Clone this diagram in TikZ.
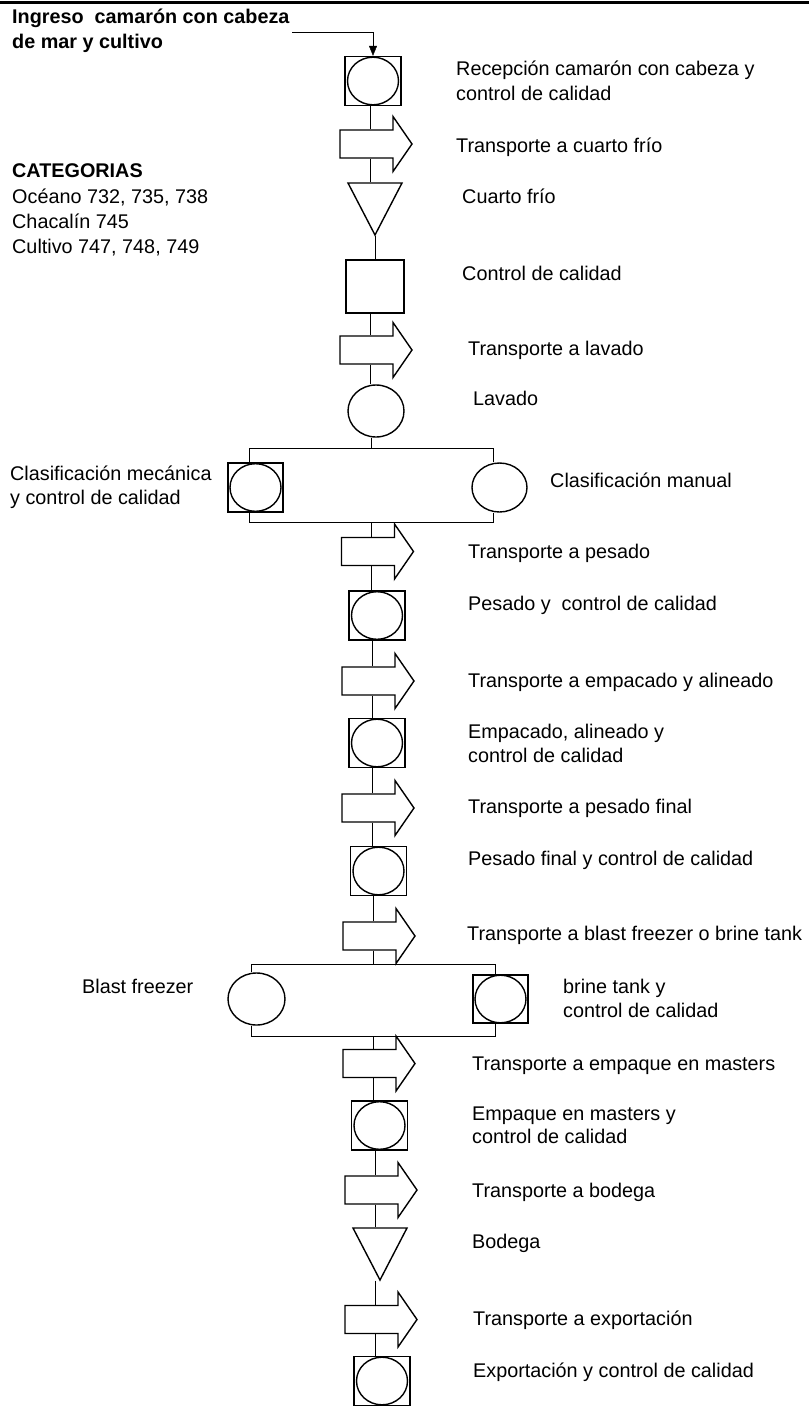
\documentclass[tikz,border=0pt]{standalone}
\usepackage{fontspec}
\setmainfont{Liberation Sans}
\usetikzlibrary{arrows.meta,shapes.geometric,calc,backgrounds}

\newcommand\lblfont{\fontsize{19.8}{24.5}\selectfont}

\begin{document}
\begin{tikzpicture}[x=1pt,y=-1pt,
  line width=1.4pt,
  every node/.style={inner sep=0pt},
  lbl/.style={anchor=west, font=\lblfont, text height=14pt, text depth=4pt},
  blbl/.style={lbl, font=\lblfont\bfseries},
  insp/.style={draw, fill=white, rectangle, minimum width=56pt, minimum height=49pt,
    path picture={\draw[line width=1.4pt] (path picture bounding box.center)
      ellipse [x radius=25.5pt, y radius=23.8pt];}},
  oper/.style={draw, fill=white, ellipse, minimum width=56pt, minimum height=52pt},
  ctrlbox/.style={draw, fill=white, rectangle, minimum width=58pt, minimum height=53pt},
  transp/.pic={
    \draw[fill=white] (-30,-14) -- (23,-14) -- (23,-27.5) -- (42,0)
      -- (23,27.5) -- (23,14) -- (-30,14) -- cycle;
    \node[minimum height=28pt, minimum width=0pt] (-n) at (0,0) {};
  },
  store/.pic={
    \draw[fill=white] (-27,-26) -- (27,-26) -- (0,26) -- cycle;
    \node[minimum width=54pt, minimum height=52pt] (-n) at (0,0) {};
  },
]
\useasboundingbox (0,0) rectangle (809,1406);

% page rule along the top edge
\draw[line width=3pt] (0,2) -- (809,2);

% ---- process symbols ----
\node[insp] (rec) at (373,81) {};
\pic (t1) at (370,144) {transp};
\pic (tri1) at (375,209) {store};
\node[ctrlbox] (ctrl) at (375,286.5) {};
\pic (t2) at (370,350) {transp};
\node[oper] (lav) at (376,411) {};

% first branching: mechanical / manual grading
\node[insp, minimum width=55pt] (clsm) at (255.5,487.5) {};
\node[oper, minimum width=55pt, minimum height=49pt] (clsn) at (499.5,487.5) {};
\coordinate (b1tl) at (249,448);
\coordinate (b1tr) at (493,448);
\coordinate (b1bl) at (249,522);
\coordinate (b1br) at (493,522);
\coordinate (b1in) at (371,448);
\coordinate (b1out) at (371,522);

\pic (t3) at (371.5,551.5) {transp};
\node[insp] (pes) at (377,615.5) {};
\pic (t4) at (372,681) {transp};
\node[insp] (emp) at (377,743) {};
\pic (t5) at (372,808) {transp};
\node[insp] (pfin) at (378.5,871) {};
\pic (t6) at (373,936) {transp};

% second branching: blast freezer / brine tank
\node[oper, minimum width=57pt, minimum height=52pt] (blast) at (256.5,999) {};
\node[insp, minimum width=55pt, minimum height=48pt] (brine) at (500.5,999) {};
\coordinate (b2tl) at (251,964.5);
\coordinate (b2tr) at (495,964.5);
\coordinate (b2bl) at (251,1036);
\coordinate (b2br) at (495,1036);
\coordinate (b2in) at (373,964.5);
\coordinate (b2out) at (373,1036);

\pic (t7) at (373,1063.5) {transp};
\node[insp] (mas) at (379.5,1125.5) {};
\pic (t8) at (375,1190) {transp};
\pic (tri2) at (380,1254) {store};
\pic (t9) at (375,1319.5) {transp};
\node[insp] (expo) at (382,1381) {};

% ---- connectors, kept beneath the symbols ----
\begin{pgfonlayer}{background}
\fill[white] (0,0) rectangle (809,1406);

\coordinate (ing) at (292,32);
\draw[-{Triangle[length=10pt,width=8pt]}] (ing) -| (rec.north);

\draw (t1-n.north |- rec.south) -- (t1-n.north);
\draw (t1-n.south) -- (t1-n.south |- tri1-n.north);
\draw (tri1-n.south) -- (ctrl.north);
\draw (t2-n.north |- ctrl.south) -- (t2-n.north);
\draw (t2-n.south) -- (t2-n.south |- lav.north);
\draw (b1in |- lav.south) -- (b1in);

\draw (b1tl |- clsm.north) -- (b1tl) -- (b1tr) -- (b1tr |- clsn.north);
\draw (b1bl |- clsm.south) -- (b1bl) -- (b1br) -- (b1br |- clsn.south);

\draw (t3-n.north |- b1out) -- (t3-n.north);
\draw (t3-n.south) -- (t3-n.south |- pes.north);
\draw (t4-n.north |- pes.south) -- (t4-n.north);
\draw (t4-n.south) -- (t4-n.south |- emp.north);
\draw (t5-n.north |- emp.south) -- (t5-n.north);
\draw (t5-n.south) -- (t5-n.south |- pfin.north);
\draw (t6-n.north |- pfin.south) -- (t6-n.north);
\draw (t6-n.south) -- (b2in);

\draw (b2tl |- blast.north) -- (b2tl) -- (b2tr) -- (b2tr |- brine.north);
\draw (b2bl |- blast.south) -- (b2bl) -- (b2br) -- (b2br |- brine.south);

\draw (b2out) -- (t7-n.north);
\draw (t7-n.south) -- (t7-n.south |- mas.north);
\draw (t8-n.north |- mas.south) -- (t8-n.north);
\draw (t8-n.south) -- (t8-n.south |- tri2-n.north);
\draw (t9-n.north |- tri2-n.south) -- (t9-n.north);
\draw (t9-n.south) -- (t9-n.south |- expo.north);
\end{pgfonlayer}

% ---- labels, left side ----
\node[blbl] (ing1) at (12,18) {Ingreso\ \ camarón con cabeza};
\node[blbl] (ing2) at (12,43) {de mar y cultivo};
\node[blbl] (cat) at (12,172) {CATEGORIAS};
\node[lbl] (cat1) at (12,198) {Océano 732, 735, 738};
\node[lbl] (cat2) at (12,223) {Chacalín 745};
\node[lbl] (cat3) at (12,248) {Cultivo 747, 748, 749};
\node[lbl] (lclsm1) at (10,475) {Clasificación mecánica};
\node[lbl] (lclsm2) at (10,499) {y control de calidad};
\node[lbl] (lblast) at (82,988) {Blast freezer};

% ---- labels, right side ----
\node[lbl] (lrec1) at (456,70) {Recepción camarón con cabeza y};
\node[lbl] (lrec2) at (456,95) {control de calidad};
\node[lbl] (lt1) at (456,147) {Transporte a cuarto frío};
\node[lbl] (ltri1) at (462,198) {Cuarto frío};
\node[lbl] (lctrl) at (462,275) {Control de calidad};
\node[lbl] (lt2) at (468,350) {Transporte a lavado};
\node[lbl] (llav) at (473,400) {Lavado};
\node[lbl] (lclsn) at (550,482) {Clasificación manual};
\node[lbl] (lt3) at (468,553) {Transporte a pesado};
\node[lbl] (lpes) at (468,605) {Pesado y\ \ control de calidad};
\node[lbl] (lt4) at (468,682) {Transporte a empacado y alineado};
\node[lbl] (lemp1) at (468,733) {Empacado, alineado y};
\node[lbl] (lemp2) at (468,757) {control de calidad};
\node[lbl] (lt5) at (468,808) {Transporte a pesado final};
\node[lbl] (lpfin) at (468,860) {Pesado final y control de calidad};
\node[lbl] (lt6) at (467,935) {Transporte a blast freezer o brine tank};
\node[lbl] (lbrine1) at (563,988) {brine tank y};
\node[lbl] (lbrine2) at (563,1012) {control de calidad};
\node[lbl] (lt7) at (472,1065) {Transporte a empaque en masters};
\node[lbl] (lmas1) at (472,1115) {Empaque en masters y};
\node[lbl] (lmas2) at (472,1138) {control de calidad};
\node[lbl] (lt8) at (472,1192) {Transporte a bodega};
\node[lbl] (ltri2) at (472,1243) {Bodega};
\node[lbl] (lt9) at (473,1320) {Transporte a exportación};
\node[lbl] (lexpo) at (473,1372) {Exportación y control de calidad};
\end{tikzpicture}
\end{document}
